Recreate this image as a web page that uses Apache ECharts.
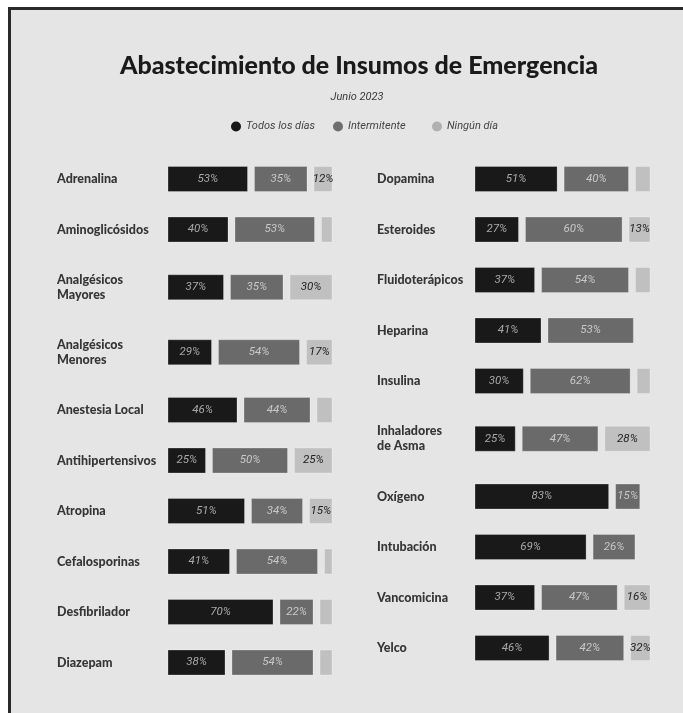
<!DOCTYPE html>
<html lang="es">
<head>
<meta charset="utf-8">
<title>Abastecimiento de Insumos de Emergencia</title>
<script src="https://cdn.jsdelivr.net/npm/echarts@6/dist/echarts.min.js"></script>
<style>
  html, body { margin: 0; padding: 0; background: #ffffff; }
  #marco {
    position: absolute; left: 8px; top: 7px; right: 0; bottom: 0;
    background: #e5e5e5;
    border-top: 3px solid #2a2a2a;
    border-left: 3px solid #2a2a2a;
  }
  #chart { position: absolute; left: 0; top: 0; width: 683px; height: 713px; }
</style>
</head>
<body>
<div id="marco"></div>
<div id="chart"></div>
<script>
// datos (porcentajes)
const insumosIzq = ['Adrenalina', 'Aminoglicósidos', 'Analgésicos\nMayores', 'Analgésicos\nMenores', 'Anestesia Local', 'Antihipertensivos', 'Atropina', 'Cefalosporinas', 'Desfibrilador', 'Diazepam'];
const todosIzq = [53, 40, 37, 29, 46, 25, 51, 41, 70, 38];
const intermitenteIzq = [35, 53, 35, 54, 44, 50, 34, 54, 22, 54];
const ningunoIzq = [12, 7, 30, 17, 10, 25, 15, 5, 8, 8];

const insumosDer = ['Dopamina', 'Esteroides', 'Fluidoterápicos', 'Heparina', 'Insulina', 'Inhaladores\nde Asma', 'Oxígeno', 'Intubación', 'Vancomicina', 'Yelco'];
const todosDer = [51, 27, 37, 41, 30, 25, 83, 69, 37, 46];
const intermitenteDer = [40, 60, 54, 53, 62, 47, 15, 26, 47, 42];
const ningunoDer = [9, 13, 9, 0, 8, 28, 0, 0, 16, 32];

const categorias = ['Todos los días', 'Intermitente', 'Ningún día'];

// estilos
const colores = ['#191919', '#6a6a6a', '#c0c0c0'];
const coloresLeyenda = ['#151515', '#6e6e6e', '#b0b0b0'];
const coloresTexto = ['#a8a8a8', '#c8c8c8', '#222222'];
const fuenteItalica = 'Roboto, sans-serif';
const hueco = 7;          // separación entre segmentos
const altoBarra = 25;

const chart = echarts.init(document.getElementById('chart'));

// paneles: posición del eje y ancho para 100 %
const paneles = [
    { insumos: insumosIzq, valores: [todosIzq, intermitenteIzq, ningunoIzq], izq: 168, ancho: 150, etiquetaX: 57 },
    { insumos: insumosDer, valores: [todosDer, intermitenteDer, ningunoDer], izq: 475, ancho: 161, etiquetaX: 377 }
];

const grid = [], xAxis = [], yAxis = [], series = [];

paneles.forEach(panel => {
    // alto de cada fila según las líneas de la etiqueta
    const alturas = panel.insumos.map(n => n.includes('\n') ? 65 : 50.5);
    let centro = 179;
    panel.insumos.forEach((nombre, i) => {
        if (i > 0) centro += (alturas[i - 1] + alturas[i]) / 2;
        const g = grid.length;
        grid.push({ left: panel.izq, width: panel.ancho, top: centro - 15, height: 30 });
        xAxis.push({ gridIndex: g, type: 'value', min: 0, max: 100, show: false });
        yAxis.push({
            gridIndex: g,
            type: 'category',
            data: [nombre],
            axisLine: { show: false },
            axisTick: { show: false },
            axisLabel: {
                align: 'left',
                margin: panel.izq - panel.etiquetaX,
                color: '#363636',
                fontFamily: 'Lato',
                fontWeight: 900,
                fontSize: 12.5,
                lineHeight: 15
            }
        });

        let acumulado = 0;
        panel.valores.forEach((serie, tipo) => {
            const v = serie[i];
            const inicio = acumulado;
            acumulado += v;
            series.push({
                type: 'custom',
                name: categorias[tipo],
                xAxisIndex: g,
                yAxisIndex: g,
                itemStyle: { color: coloresLeyenda[tipo] },
                encode: { x: [0, 2], y: 1 },
                data: v > 0 ? [[inicio, nombre, inicio + v, v]] : [],
                renderItem: (params, api) => {
                    const cs = params.coordSys;
                    const p0 = api.coord([api.value(0), api.value(1)]);
                    const p1 = api.coord([api.value(2), api.value(1)]);
                    const limite = cs.x + cs.width + 2 * hueco;
                    const x0 = p0[0] + tipo * hueco;
                    const x1 = Math.min(p1[0] + tipo * hueco, limite);
                    if (x1 - x0 < 1) return;
                    const valor = api.value(3);
                    const hijos = [{
                        type: 'rect',
                        shape: { x: x0, y: p0[1] - altoBarra / 2, width: x1 - x0, height: altoBarra },
                        style: { fill: colores[tipo], stroke: 'rgba(255,255,255,0.25)', lineWidth: 1 }
                    }];
                    if (valor >= 11) {
                        hijos.push({
                            type: 'text',
                            style: {
                                x: (x0 + x1) / 2,
                                y: p0[1],
                                text: valor + '%',
                                align: 'center',
                                verticalAlign: 'middle',
                                fill: coloresTexto[tipo],
                                fontStyle: 'italic',
                                fontSize: 11.5,
                                fontFamily: fuenteItalica
                            }
                        });
                    }
                    return { type: 'group', children: hijos };
                }
            });
        });
    });
});

// una leyenda por categoría para fijar su posición
const posLeyenda = [226, 328, 427];
const legend = categorias.map((nombre, i) => ({
    data: [nombre],
    left: posLeyenda[i],
    top: 116,
    icon: 'circle',
    itemWidth: 10,
    itemHeight: 10,
    selectedMode: false,
    textStyle: { fontFamily: fuenteItalica, fontStyle: 'italic', fontSize: 11, color: '#444444' }
}));

const option = {
    backgroundColor: 'transparent',
    animation: false,
    title: [
        {
            text: 'Abastecimiento de Insumos de Emergencia',
            left: 354,
            top: 48,
            textAlign: 'center',
            textStyle: { fontFamily: 'Lato', fontWeight: 900, fontSize: 25, color: '#1a1a1a' }
        },
        {
            text: 'Junio 2023',
            left: 352,
            top: 87,
            textAlign: 'center',
            textStyle: { fontFamily: fuenteItalica, fontStyle: 'italic', fontWeight: 'normal', fontSize: 11, color: '#3a3a3a' }
        }
    ],
    legend: legend,
    grid: grid,
    xAxis: xAxis,
    yAxis: yAxis,
    series: series
};

chart.setOption(option);
window.addEventListener('resize', chart.resize);
</script>
</body>
</html>
